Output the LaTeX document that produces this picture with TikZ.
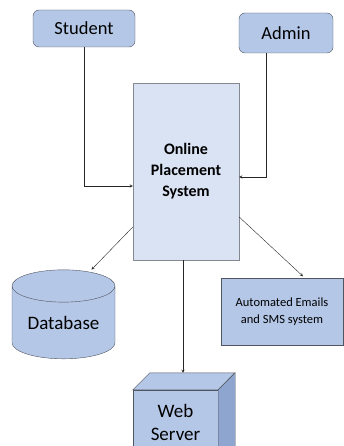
\documentclass[tikz,border=0pt]{standalone}
\usepackage{fontspec}
\setmainfont{Carlito}
\usepackage{tikz}
\usetikzlibrary{shapes.geometric}
\usetikzlibrary{positioning}
\usetikzlibrary{arrows}
\definecolor{boxblue}{HTML}{B4C7E7}
\definecolor{paleblue}{HTML}{DAE3F3}
\definecolor{sideblue}{HTML}{8EA6CF}
\definecolor{edgegray}{HTML}{50555F}
\tikzset{
user_box/.style={rectangle, rounded corners=6pt, draw=edgegray, fill=boxblue, inner sep=0pt, font=\fontsize{18.5}{20}\selectfont},
system_box/.style={rectangle, draw=edgegray!70, fill=paleblue, minimum width=106pt, minimum height=177pt, align=center, font=\fontsize{16}{21}\selectfont\bfseries},
db_item/.style={cylinder, shape border rotate=90, shape aspect=0.45, draw=edgegray, fill=boxblue, minimum width=103pt, minimum height=89pt, inner sep=0pt, font=\fontsize{19}{20}\selectfont},
out_box/.style={rectangle, draw=edgegray, fill=boxblue, inner sep=0pt, align=center},
link/.style={->, >=stealth, draw=black!85}
}

\begin{document}
\begin{tikzpicture}[x=1pt, y=-1pt]
    \useasboundingbox (0,0) rectangle (343,446);
    \node[user_box, minimum width=102pt, minimum height=37pt] (student) at (84,28.5) {Student};
    \node[user_box, minimum width=94pt, minimum height=40pt] (admin) at (286,33) {Admin};
    \node[system_box] (system) at (186,171.5) {Online\\Placement\\System};
    \node[db_item] (data_base) at (63.5,322.5) {Database};
    \node[out_box, minimum width=122pt, minimum height=67pt, font=\fontsize{12.5}{17}\selectfont] (emails) at (282,312) {Automated Emails\\and SMS system};
    \node[out_box, minimum width=85pt, minimum height=64pt, align=center, font=\fontsize{19}{23}\selectfont] (web_server) at (175.5,422) {Web\\Server};
    % cube faces of the web server
    \draw[draw=edgegray, fill=boxblue] (web_server.north west) -- ++(17pt,17pt) -- ++(85pt,0pt) -- (web_server.north east) -- cycle;
    \draw[draw=edgegray, fill=sideblue] (web_server.north east) -- ++(17pt,17pt) -- ++(0pt,-81pt) -- (web_server.south east) -- cycle;
    \coordinate (server_top) at ([xshift=8pt, yshift=17pt]web_server.north);

    \draw[link] (student.south) |- ([yshift=-14.5pt]system.west);
    \draw[link] ([xshift=-20pt]admin.south) |- ([yshift=-5.5pt]system.east);
    \draw[link] ([yshift=-55.5pt]system.west) -- ([xshift=28pt]data_base.north);
    \draw[link] ([yshift=-45.5pt]system.east) -- ([xshift=21pt, yshift=2pt]emails.north);
    \draw[link] ([xshift=-3pt]system.south) -- ([xshift=-3pt]system.south |- server_top);
\end{tikzpicture}
\end{document}
